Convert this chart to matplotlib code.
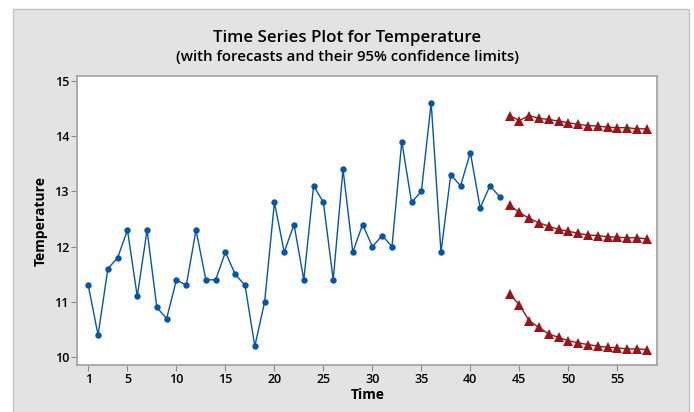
import numpy as np
import matplotlib.pyplot as plt
from matplotlib.patches import Rectangle

# observed series
time = list(range(1, 44))
temperature = [11.3, 10.4, 11.6, 11.8, 12.3, 11.1, 12.3, 10.9, 10.7, 11.4,
               11.3, 12.3, 11.4, 11.4, 11.9, 11.5, 11.3, 10.2, 11.0, 12.8,
               11.9, 12.4, 11.4, 13.1, 12.8, 11.4, 13.4, 11.9, 12.4, 12.0,
               12.2, 12.0, 13.9, 12.8, 13.0, 14.6, 11.9, 13.3, 13.1, 13.7,
               12.7, 13.1, 12.9]

# forecasts with 95% limits
fc_time = list(range(44, 59))
upper = [14.37, 14.28, 14.37, 14.32, 14.30, 14.27, 14.24, 14.21, 14.19, 14.18,
         14.16, 14.15, 14.15, 14.13, 14.13]
forecast = [12.75, 12.62, 12.51, 12.43, 12.37, 12.31, 12.28, 12.24, 12.21, 12.20,
            12.18, 12.17, 12.16, 12.16, 12.14]
lower = [11.14, 10.95, 10.66, 10.54, 10.42, 10.36, 10.30, 10.26, 10.23, 10.20,
         10.18, 10.17, 10.15, 10.15, 10.14]

xticks = [1, 5, 10, 15, 20, 25, 30, 35, 40, 45, 50, 55]
yticks = [10, 11, 12, 13, 14, 15]

plt.rcParams['font.family'] = ['Open Sans', 'DejaVu Sans']

fig = plt.figure(figsize=(6.94, 4.12), dpi=100)
fig.patch.set_facecolor('white')
# gray panel behind everything
fig.patches.append(Rectangle((13 / 694, -0.01), 676 / 694, 1 - 9 / 412 + 0.01,
                             transform=fig.transFigure, facecolor='#e3e3e3',
                             edgecolor='#c4c4c4', linewidth=1, zorder=-5))

ax = fig.add_axes([77.3 / 694, 47 / 412, 580 / 694, 289 / 412])
ax.set_zorder(1)
ax.set_facecolor('white')

blue = '#0456a8'
red = '#9a1518'
ax.plot(time, temperature, color=blue, linewidth=1, marker='o', markersize=4.6,
        markeredgewidth=0)
for s in [upper, forecast, lower]:
    ax.plot(fc_time, s, color=red, linewidth=1, marker='^', markersize=6.5,
            markeredgewidth=0)

ax.set_xlim(-0.12, 59.08)
ax.set_ylim(9.86, 15.085)
ax.set_xticks(xticks)
ax.set_yticks(yticks)
ax.tick_params(direction='out', length=4, width=0.8, color='#8a8a8a',
               labelsize=9, pad=2)
for lab in ax.get_xticklabels() + ax.get_yticklabels():
    lab.set_fontweight('semibold')
for sp in ax.spines.values():
    sp.set_color('#a0a0a0')
    sp.set_linewidth(1.2)

ax.set_xlabel('Time', fontsize=10, fontweight='bold', labelpad=1)
ax.set_ylabel('Temperature', fontsize=10, fontweight='bold', labelpad=5)

fig.text(0.5, 1 - 38 / 412, 'Time Series Plot for Temperature', ha='center',
         va='center', fontsize=12.2, fontweight='semibold')
fig.text(0.5, 1 - 57 / 412, '(with forecasts and their 95% confidence limits)',
         ha='center', va='center', fontsize=10.8, fontweight='semibold')

fig.savefig('out.png', dpi=100)
